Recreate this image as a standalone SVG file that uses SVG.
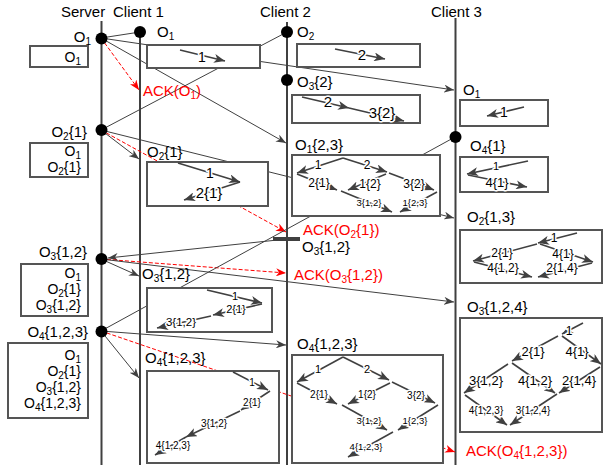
<svg xmlns="http://www.w3.org/2000/svg" width="604" height="465" viewBox="0 0 604 465">
<defs>
<marker id="a" markerUnits="userSpaceOnUse" markerWidth="11" markerHeight="8" refX="10" refY="4" orient="auto"><path d="M0,0 L10,4 L0,8 L3,4 Z" fill="#404040"/></marker>
<marker id="r" markerUnits="userSpaceOnUse" markerWidth="11" markerHeight="8" refX="10" refY="4" orient="auto"><path d="M0,0 L10,4 L0,8 L3,4 Z" fill="#ff0000"/></marker>
<marker id="b" markerUnits="userSpaceOnUse" markerWidth="12" markerHeight="9" refX="11" refY="4.5" orient="auto"><path d="M0,0 L11,4.5 L0,9 L3,4.5 Z" fill="#404040"/></marker>
</defs>
<style>
text{font-family:"Liberation Sans",Arial,sans-serif;fill:#000}
.h{font-size:15px}
.l{font-size:15px}
.bx{font-size:14px}
.s{font-size:10px}
.red{fill:#ff0000}
.e{text-anchor:end}
.k{paint-order:stroke;stroke:#fff;stroke-width:3px;stroke-linejoin:round;text-anchor:middle}
.tl{stroke:#404040;stroke-width:2}
.box{fill:#fff;stroke:#555;stroke-width:2}
.tr{fill:none;stroke:#404040;stroke-width:1.6;marker-end:url(#b)}
.cn{fill:none;stroke:#404040;stroke-width:1}
.ar{marker-end:url(#a)}
.ack{fill:none;stroke:#ff0000;stroke-width:1;stroke-dasharray:4 2;marker-end:url(#r)}
</style>
<rect width="604" height="465" fill="#fff"/>
<g id="server"><line class="tl" x1="101.5" y1="21" x2="101.5" y2="465"/><text class="h" x="61" y="17">Server</text></g>
<g id="client1"><line class="tl" x1="140" y1="27" x2="140" y2="465"/><text class="h" x="113" y="17">Client 1</text></g>
<g id="client2"><line class="tl" x1="287" y1="22" x2="287" y2="465"/><text class="h" x="260" y="17">Client 2</text></g>
<g id="client3"><line class="tl" x1="455.5" y1="18" x2="455.5" y2="465"/><text class="h" x="431" y="17">Client 3</text></g>

<g id="connectors">
<path class="cn" d="M140,32 L101,38"/>
<path class="cn ar" d="M101,38 L454,90"/>
<path class="cn ar" d="M101,38 L286,143"/>
<path class="ack" d="M101,38 L139,90"/>
<path class="cn" d="M287,32 L101,130"/>
<path class="cn ar" d="M101,130 L139,159"/>
<path class="ack" d="M101,130 L286,232"/>
<path class="cn ar" d="M101,130 L454,218"/>
<path class="cn ar" d="M287,239 L108,258"/>
<path class="cn ar" d="M101,259 L139,276"/>
<path class="ack" d="M101,259 L286,273"/>
<path class="cn ar" d="M101,259 L454,302"/>
<path class="cn" d="M455,137 L101,331"/>
<path class="cn ar" d="M101,331 L139,378"/>
<path class="cn ar" d="M101,331 L286,345"/>
<path class="ack" d="M101,331 L455,452"/>
<text class="l red" x="143" y="96">ACK(O<tspan class="s" dy="3">1</tspan><tspan dy="-3">)</tspan></text>
<text class="l red" x="303" y="235">ACK(O<tspan class="s" dy="3">2</tspan><tspan dy="-3">{1})</tspan></text>
<text class="l red" x="294" y="280">ACK(O<tspan class="s" dy="3">3</tspan><tspan dy="-3">{1,2})</tspan></text>
<text class="l red" x="466" y="456">ACK(O<tspan class="s" dy="3">4</tspan><tspan dy="-3">{1,2,3})</tspan></text>
</g>

<g id="server-box1"><rect class="box" x="30" y="46" width="58" height="21"/><text class="bx e" x="81" y="62">O<tspan class="s" dy="2.5">1</tspan></text></g>
<g id="server-box2"><rect class="box" x="30" y="143" width="58" height="34"/>
<text class="bx e" x="81" y="156">O<tspan class="s" dy="2.5">1</tspan></text>
<text class="bx e" x="81" y="172">O<tspan class="s" dy="2.5">2</tspan><tspan dy="-2.5">{1}</tspan></text></g>
<g id="server-box3"><rect class="box" x="21" y="264" width="67" height="52"/>
<text class="bx e" x="81" y="278">O<tspan class="s" dy="2.5">1</tspan></text>
<text class="bx e" x="81" y="294">O<tspan class="s" dy="2.5">2</tspan><tspan dy="-2.5">{1}</tspan></text>
<text class="bx e" x="81" y="310">O<tspan class="s" dy="2.5">3</tspan><tspan dy="-2.5">{1,2}</tspan></text></g>
<g id="server-box4"><rect class="box" x="8" y="343" width="80" height="75"/>
<text class="bx e" x="81" y="360">O<tspan class="s" dy="2.5">1</tspan></text>
<text class="bx e" x="81" y="376">O<tspan class="s" dy="2.5">2</tspan><tspan dy="-2.5">{1}</tspan></text>
<text class="bx e" x="81" y="392">O<tspan class="s" dy="2.5">3</tspan><tspan dy="-2.5">{1,2}</tspan></text>
<text class="bx e" x="81" y="408">O<tspan class="s" dy="2.5">4</tspan><tspan dy="-2.5">{1,2,3}</tspan></text></g>

<g id="c1-box1"><rect class="box" x="147" y="45" width="113" height="23"/>
<path class="tr" d="M180,50 L225,61"/><text class="k" x="202" y="62" font-size="14">1</text></g>
<g id="c1-box2"><text class="l" x="147" y="157">O<tspan class="s" dy="3">2</tspan><tspan dy="-3">{1}</tspan></text>
<rect class="box" x="147" y="162" width="121" height="44"/>
<path class="tr" d="M178,163 L240,182"/><path class="tr" d="M240,182 L184,200"/>
<text class="k" x="210" y="178" font-size="14">1</text><text class="k" x="209" y="198" font-size="15">2{1}</text></g>
<g id="c1-box3"><text class="l" x="142" y="279">O<tspan class="s" dy="3">3</tspan><tspan dy="-3">{1,2}</tspan></text>
<rect class="box" x="147" y="288" width="125" height="44"/>
<path class="tr" d="M207,290 L262,303"/><path class="tr" d="M262,304 L213,315"/><path class="tr" d="M211,316 L157,328"/>
<text class="k" x="235" y="300" font-size="11">1</text><text class="k" x="236" y="313" font-size="11">2{1}</text><text class="k" x="181" y="326" font-size="11.5">3{1,2}</text></g>
<g id="c1-box4"><text class="l" x="145" y="363">O<tspan class="s" dy="3">4</tspan><tspan dy="-3">{1,2,3}</tspan></text>
<rect class="box" x="147" y="371" width="132" height="92"/>
<path class="tr" d="M233,372 L268,390"/><path class="tr" d="M270,391 L241,410"/><path class="tr" d="M240,411 L186,437"/><path class="tr" d="M186,437 L155,455"/>
<text class="k" x="252" y="386" font-size="10">1</text><text class="k" x="252" y="406" font-size="10">2{1}</text><text class="k" x="214" y="427" font-size="10">3{1,2}</text><text class="k" x="173" y="449" font-size="10">4{1,2,3}</text></g>

<g id="c2-box1"><rect class="box" x="297" y="44" width="123" height="23"/>
<path class="tr" d="M335,49 L385,59"/><text class="k" x="362" y="60" font-size="15">2</text></g>
<g id="c2-box2"><rect class="box" x="292" y="95" width="128" height="28"/>
<path class="tr" d="M302,97 L349,108"/><path class="tr" d="M349,108 L404,121"/>
<text class="k" x="328" y="107" font-size="15">2</text><text class="k" x="382" y="118" font-size="15">3{2}</text></g>
<g id="c2-box3"><text class="l" x="295" y="150">O<tspan class="s" dy="3">1</tspan><tspan dy="-3">{2,3}</tspan></text>
<rect class="box" x="292" y="155" width="148" height="61"/>
<path class="tr" d="M343,158 L297,173"/><path class="tr" d="M343,158 L387,172"/><path class="tr" d="M389,173 L434,190"/><path class="tr" d="M386,174 L348,190"/><path class="tr" d="M297,174 L337,190"/><path class="tr" d="M341,191 L392,212"/><path class="tr" d="M437,192 L400,212"/>
<text class="k" x="318" y="169" font-size="12">1</text><text class="k" x="367" y="169" font-size="12">2</text><text class="k" x="414" y="188" font-size="12">3{2}</text><text class="k" x="370" y="188" font-size="12">1{2}</text><text class="k" x="319" y="187" font-size="12">2{1}</text><text class="k" x="369" y="206" font-size="9.5">3{1,2}</text><text class="k" x="415" y="206" font-size="9.5">1{2,3}</text></g>
<g id="c2-box4"><text class="l" x="297" y="349">O<tspan class="s" dy="3">4</tspan><tspan dy="-3">{1,2,3}</tspan></text>
<rect class="box" x="292" y="355" width="151" height="108"/>
<path class="tr" d="M343,357 L297,382"/><path class="tr" d="M343,357 L389,380"/><path class="tr" d="M392,382 L435,403"/><path class="tr" d="M390,383 L348,404"/><path class="tr" d="M297,383 L337,404"/><path class="tr" d="M342,405 L387,430"/><path class="tr" d="M438,405 L398,430"/><path class="tr" d="M393,432 L348,457"/>
<text class="k" x="318" y="373" font-size="11">1</text><text class="k" x="367" y="373" font-size="11">2</text><text class="k" x="416" y="399" font-size="10">3{2}</text><text class="k" x="367" y="398" font-size="10">1{2}</text><text class="k" x="319" y="398" font-size="10">2{1}</text><text class="k" x="369" y="424" font-size="9.5">3{1,2}</text><text class="k" x="415" y="424" font-size="9.5">1{2,3}</text><text class="k" x="366" y="450" font-size="9.5">4{1,2,3}</text></g>

<g id="c3-box1"><text class="l" x="463" y="95">O<tspan class="s" dy="3">1</tspan></text>
<rect class="box" x="460" y="100" width="88" height="26"/>
<path class="tr" d="M524,107 L487,116"/><text class="k" x="504" y="117" font-size="14">1</text></g>
<g id="c3-box2"><rect class="box" x="460" y="157" width="88" height="35"/>
<path class="tr" d="M528,161 L467,174"/><path class="tr" d="M468,175 L527,187"/>
<text class="k" x="496" y="170" font-size="11">1</text><text class="k" x="497" y="187" font-size="13">4{1}</text></g>
<g id="c3-box3"><text class="l" x="467" y="222">O<tspan class="s" dy="3">2</tspan><tspan dy="-3">{1,3}</tspan></text>
<rect class="box" x="460" y="230" width="142" height="53"/>
<path class="tr" d="M577,233 L538,243"/><path class="tr" d="M537,244 L473,261"/><path class="tr" d="M540,244 L593,262"/><path class="tr" d="M474,262 L532,277"/><path class="tr" d="M592,263 L538,277"/>
<text class="k" x="554" y="242" font-size="12">1</text><text class="k" x="502" y="257" font-size="12">2{1}</text><text class="k" x="563" y="258" font-size="12">4{1}</text><text class="k" x="503" y="272" font-size="12">4{1,2}</text><text class="k" x="562" y="272" font-size="12">2{1,4}</text></g>
<g id="c3-box4"><text class="l" x="467" y="312">O<tspan class="s" dy="3">3</tspan><tspan dy="-3">{1,2,4}</tspan></text>
<rect class="box" x="460" y="318" width="142" height="114"/>
<path class="tr" d="M583,323 L562,334"/><path class="tr" d="M558,336 L512,361"/><path class="tr" d="M562,336 L601,364"/><path class="tr" d="M508,364 L464,393"/><path class="tr" d="M512,363 L555,393"/><path class="tr" d="M600,367 L559,393"/><path class="tr" d="M465,395 L507,425"/><path class="tr" d="M557,394 L510,425"/>
<text class="k" x="569" y="335" font-size="12">1</text><text class="k" x="533" y="356" font-size="13">2{1}</text><text class="k" x="577" y="356" font-size="13">4{1}</text><text class="k" x="486" y="385" font-size="13">3{1,2}</text><text class="k" x="535" y="385" font-size="13">4{1,2}</text><text class="k" x="579" y="385" font-size="13">2{1,4}</text><text class="k" x="486" y="414" font-size="10">4{1,2,3}</text><text class="k" x="533" y="414" font-size="10">3{1,2,4}</text></g>

<g id="server-o1"><circle cx="101.5" cy="38.5" r="6"/><text class="l e" x="91" y="42">O<tspan class="s" dy="3">1</tspan></text></g>
<g id="server-o2"><circle cx="101.5" cy="130" r="6"/><text class="l e" x="87" y="137">O<tspan class="s" dy="3">2</tspan><tspan dy="-3">{1}</tspan></text></g>
<g id="server-o3"><circle cx="101.5" cy="259" r="6"/><text class="l e" x="87" y="257">O<tspan class="s" dy="3">3</tspan><tspan dy="-3">{1,2}</tspan></text></g>
<g id="server-o4"><circle cx="101.5" cy="331.5" r="6"/><text class="l e" x="88" y="337">O<tspan class="s" dy="3">4</tspan><tspan dy="-3">{1,2,3}</tspan></text></g>
<g id="c1-o1"><circle cx="140" cy="32" r="6"/><text class="l" x="157" y="37">O<tspan class="s" dy="3">1</tspan></text></g>
<g id="c2-o2"><circle cx="287" cy="32" r="6"/><text class="l" x="297" y="37">O<tspan class="s" dy="3">2</tspan></text></g>
<g id="c2-o3"><circle cx="287" cy="80" r="6"/><text class="l" x="297" y="87">O<tspan class="s" dy="3">3</tspan><tspan dy="-3">{2}</tspan></text></g>
<g id="c2-o3-send"><path d="M273,239 H300" stroke="#404040" stroke-width="4"/><text class="l" x="302" y="252">O<tspan class="s" dy="3">3</tspan><tspan dy="-3">{1,2}</tspan></text></g>
<g id="c3-o4"><circle cx="455.5" cy="137" r="6"/><text class="l" x="470" y="151">O<tspan class="s" dy="3">4</tspan><tspan dy="-3">{1}</tspan></text></g>
</svg>
